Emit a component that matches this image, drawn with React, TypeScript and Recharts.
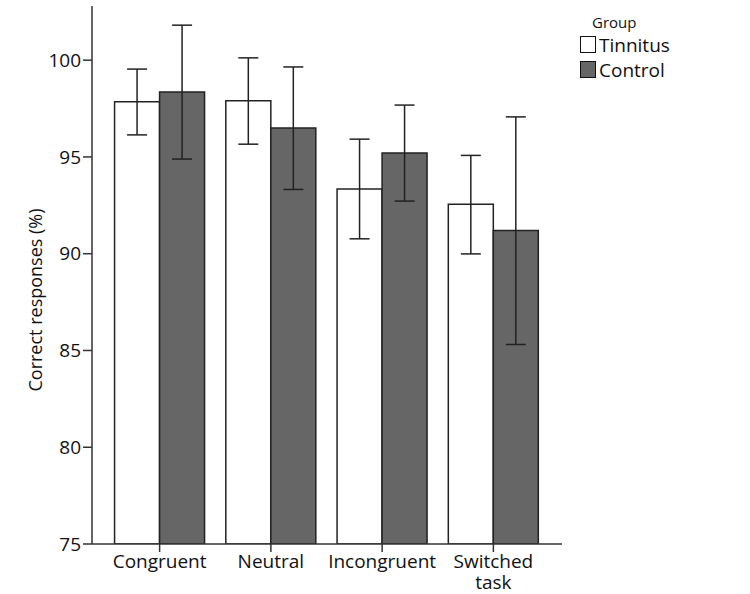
import { BarChart, Bar, XAxis, YAxis, ErrorBar } from 'recharts'

const categories = ['Congruent', 'Neutral', 'Incongruent', 'Switched task']
const tinnitusMean = [97.85, 97.9, 93.35, 92.55]
const tinnitusLow = [96.14, 95.66, 90.77, 89.99]
const tinnitusHigh = [99.54, 100.12, 95.92, 95.08]
const controlMean = [98.35, 96.5, 95.21, 91.2]
const controlLow = [94.89, 93.32, 92.72, 85.31]
const controlHigh = [101.81, 99.65, 97.68, 97.07]
const yTicks = [75, 80, 85, 90, 95, 100]
const groups = [
  { name: 'Tinnitus', fill: '#ffffff' },
  { name: 'Control', fill: '#666666' },
]

const data = categories.map((c, i) => ({
  name: c,
  tinnitus: tinnitusMean[i],
  tinnitusErr: [tinnitusMean[i] - tinnitusLow[i], tinnitusHigh[i] - tinnitusMean[i]],
  control: controlMean[i],
  controlErr: [controlMean[i] - controlLow[i], controlHigh[i] - controlMean[i]],
}))

const FONT = '"Open Sans", sans-serif'
const AXIS = '#333'

function CategoryTick(props: any) {
  const { x, y, payload } = props
  const lines = String(payload.value).split(' ')
  return (
    <text x={x} y={y} textAnchor="middle" fontFamily={FONT} fontSize={19} fill="#111">
      {lines.map((l, i) => (
        <tspan key={i} x={x} dy={i === 0 ? '0.71em' : '1.1em'}>{l}</tspan>
      ))}
    </text>
  )
}

function YLabel(props: any) {
  const { viewBox } = props
  const cx = 35
  const cy = viewBox.y + viewBox.height / 2 + 25
  return (
    <text x={cx} y={cy} transform={`rotate(-90, ${cx}, ${cy})`} textAnchor="middle" dominantBaseline="central" fontFamily={FONT} fontSize={18} fill="#111">
      Correct responses (%)
    </text>
  )
}

function GroupLegend() {
  return (
    <div style={{ position: 'absolute', left: 580, top: 12, fontFamily: FONT, color: '#111' }}>
      <div style={{ fontSize: 15, marginLeft: 12, lineHeight: '20px' }}>Group</div>
      {groups.map((g) => (
        <div key={g.name} style={{ display: 'flex', alignItems: 'center', height: 25, fontSize: 19 }}>
          <span style={{ display: 'inline-block', width: 14, height: 15, border: '1.5px solid #111', background: g.fill, marginRight: 3 }} />
          {g.name}
        </div>
      ))}
    </div>
  )
}

export default function App() {
  return (
    <div style={{ position: 'absolute', left: 0, top: 0, width: 750, height: 594, background: '#fff' }}>
      <BarChart
        width={750}
        height={594}
        data={data}
        margin={{ top: 6, right: 188, left: 0, bottom: 0 }}
        barCategoryGap="9.5%"
        barGap={0}
      >
        <XAxis
          dataKey="name"
          height={50}
          padding={{ left: 12, right: 13 }}
          tickSize={8}
          tickMargin={3}
          tick={<CategoryTick />}
          interval={0}
          axisLine={{ stroke: AXIS, strokeWidth: 1.5 }}
          tickLine={{ stroke: AXIS, strokeWidth: 1.5 }}
        />
        <XAxis xAxisId="top" dataKey="name" orientation="top" height={0} tick={false} tickLine={false} axisLine={{ stroke: AXIS, strokeWidth: 1.5 }} />
        <YAxis
          width={92}
          domain={[75, 102.8]}
          ticks={yTicks}
          allowDataOverflow
          tickSize={9}
          tickMargin={2}
          tick={{ fontFamily: FONT, fontSize: 19, fill: '#111' }}
          axisLine={{ stroke: AXIS, strokeWidth: 1.5 }}
          tickLine={{ stroke: AXIS, strokeWidth: 1.5 }}
          label={<YLabel />}
        />
        <YAxis yAxisId="right" orientation="right" width={0} tick={false} tickLine={false} axisLine={{ stroke: AXIS, strokeWidth: 1.5 }} />
        <Bar dataKey="tinnitus" name="Tinnitus" fill={groups[0].fill} stroke="#222" strokeWidth={1.5} isAnimationActive={false}>
          <ErrorBar dataKey="tinnitusErr" width={10} stroke="#222" strokeWidth={1.5} />
        </Bar>
        <Bar dataKey="control" name="Control" fill={groups[1].fill} stroke="#222" strokeWidth={1.5} isAnimationActive={false}>
          <ErrorBar dataKey="controlErr" width={10} stroke="#222" strokeWidth={1.5} />
        </Bar>
      </BarChart>
      <GroupLegend />
    </div>
  )
}
